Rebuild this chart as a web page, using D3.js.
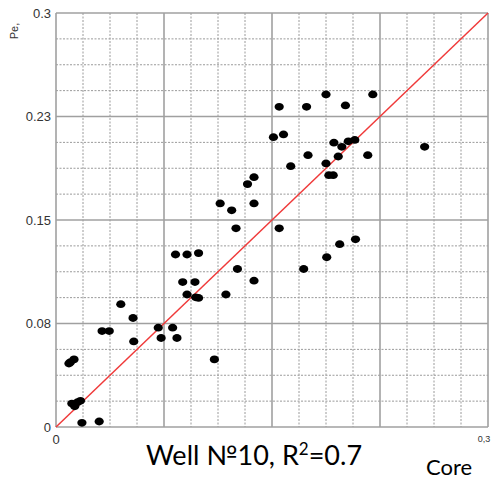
<!DOCTYPE html>
<html><head><meta charset="utf-8">
<script src="https://cdn.jsdelivr.net/npm/d3@7"></script>
<style>body{margin:0;background:#fff}svg{display:block}</style>
</head><body>
<svg id="chart" width="497" height="479"></svg>
<script>
const coreValues = [0.009,0.010,0.0125,0.011,0.013,0.015,0.017,0.018,0.030,0.032,0.037,0.045,0.0535,0.054,0.071,0.073,0.081,0.084,0.083,0.091,0.099,0.088,0.0965,0.091,0.097,0.099,0.118,0.110,0.126,0.1375,0.114,0.122,0.125,0.133,0.1375,0.1375,0.155,0.163,0.155,0.174,0.1875,0.201,0.220,0.151,0.158,0.175,0.193,0.1985,0.203,0.2075,0.196,0.1875,0.1895,0.1925,0.2165,0.256,0.172,0.188,0.197,0.208];
const peValues   = [0.046,0.047,0.049,0.017,0.015,0.018,0.019,0.003,0.004,0.0695,0.0695,0.089,0.079,0.062,0.072,0.0645,0.072,0.0645,0.125,0.125,0.126,0.105,0.105,0.096,0.094,0.0935,0.096,0.049,0.1145,0.106,0.162,0.157,0.144,0.176,0.181,0.162,0.144,0.189,0.232,0.232,0.241,0.233,0.241,0.210,0.212,0.197,0.206,0.203,0.207,0.208,0.196,0.191,0.1825,0.1825,0.197,0.203,0.1145,0.123,0.1325,0.136];
const yTickValues = [0, 0.075, 0.15, 0.225, 0.3];
const yTickLabels = ["0", "0.08", "0.15", "0.23", "0.3"];
const xTickLabels = ["0", "0,3"];
const titleMain = "Well №10, R";
const titleSup = "2";
const titleEnd = "=0.7";
const xTitle = "Core";
const yTitle = "Pe,";

const svg = d3.select("#chart");
const L = 56, R = 488, T = 13, B = 427;
const x = d3.scaleLinear().domain([0, 0.3]).range([L, R]);
const y = d3.scaleLinear().domain([0, 0.3]).range([B, T]);

const minor = d3.range(0, 17).map(i => i * 0.3 / 16);
const g = svg.append("g");
// minor grid
minor.forEach((v, i) => {
  if (i % 4 === 0) return;
  g.append("line").attr("x1", x(v)).attr("x2", x(v)).attr("y1", T).attr("y2", B)
    .attr("stroke", "#9a9a9a").attr("stroke-width", 1).attr("stroke-dasharray", "2,1.5");
  g.append("line").attr("y1", y(v)).attr("y2", y(v)).attr("x1", L).attr("x2", R)
    .attr("stroke", "#9a9a9a").attr("stroke-width", 1).attr("stroke-dasharray", "2,1.5");
});
// major grid
minor.forEach((v, i) => {
  if (i % 4 !== 0) return;
  g.append("line").attr("x1", x(v)).attr("x2", x(v)).attr("y1", T).attr("y2", B)
    .attr("stroke", "#a0a0a0").attr("stroke-width", 1.6);
  g.append("line").attr("y1", y(v)).attr("y2", y(v)).attr("x1", L).attr("x2", R)
    .attr("stroke", "#a0a0a0").attr("stroke-width", 1.6);
});

// y axis labels
const yAxis = d3.axisLeft(y).tickValues(yTickValues).tickSize(0).tickPadding(5)
  .tickFormat((d, i) => yTickLabels[i]);
const ya = svg.append("g").attr("transform", `translate(${L},0)`).call(yAxis);
ya.select(".domain").remove();
ya.selectAll("text").attr("font-family", "Liberation Sans, Arial, sans-serif")
  .attr("font-size", 13).attr("fill", "#333");

// x axis labels
svg.append("text").attr("x", x(0)).attr("y", B + 17).attr("text-anchor", "middle")
  .attr("font-family", "Liberation Sans, Arial, sans-serif").attr("font-size", 13).attr("fill", "#333")
  .text(xTickLabels[0]);
svg.append("text").attr("x", x(0.3) - 4).attr("y", B + 15).attr("text-anchor", "middle")
  .attr("font-family", "Liberation Sans, Arial, sans-serif").attr("font-size", 9).attr("fill", "#333")
  .text(xTickLabels[1]);

// y title
svg.append("text").attr("transform", "translate(18,31) rotate(-90)").attr("text-anchor", "middle")
  .attr("font-family", "Liberation Sans, Arial, sans-serif").attr("font-size", 11).attr("fill", "#333")
  .text(yTitle);

// diagonal
svg.append("line").attr("x1", x(0)).attr("y1", y(0)).attr("x2", x(0.3)).attr("y2", y(0.3))
  .attr("stroke", "#f03a3a").attr("stroke-width", 1.5);

// points
svg.append("g").selectAll("ellipse").data(coreValues.map((c, i) => [c, peValues[i]]))
  .join("ellipse").attr("cx", d => x(d[0])).attr("cy", d => y(d[1]))
  .attr("rx", 4.6).attr("ry", 3.9).attr("fill", "#000");

// titles
const t = svg.append("text").attr("x", 254).attr("y", 465).attr("text-anchor", "middle")
  .attr("font-family", "Lato, 'Open Sans', sans-serif").attr("font-size", 27).attr("fill", "#000");
t.append("tspan").text(titleMain);
t.append("tspan").attr("dy", -10).attr("font-size", 17).text(titleSup);
t.append("tspan").attr("dy", 10).text(titleEnd);

svg.append("text").attr("x", 449).attr("y", 475).attr("text-anchor", "middle")
  .attr("font-family", "Lato, 'Open Sans', sans-serif").attr("font-size", 22).attr("fill", "#000")
  .text(xTitle);
</script>
</body></html>
